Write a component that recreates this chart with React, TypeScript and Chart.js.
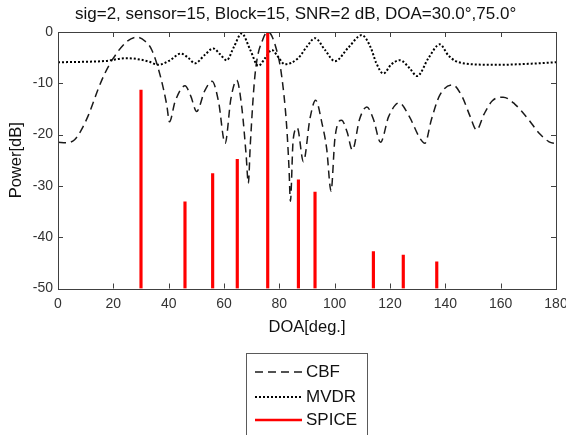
import React, { useEffect, useRef } from "react";
import Chart from "chart.js/auto";

const titleText = "sig=2, sensor=15, Block=15, SNR=2 dB, DOA=30.0°,75.0°";
const xLabel = "DOA[deg.]";
const yLabel = "Power[dB]";
const legendLabels = ["CBF", "MVDR", "SPICE"];

const cbfDoa = [0, 3, 6, 8, 11, 14.6, 17, 20, 24.8, 28.5, 31.5, 33.9, 36.9, 39.3, 40.3, 42.3, 45.9, 48, 50.1, 53, 55.7, 58, 60.4, 62.5, 64.6, 66.5, 68, 68.8, 69.5, 71.2, 74.2, 76, 79, 80.8, 82.6, 83.5, 84, 85, 86.5, 88.7, 91.1, 93.1, 95.5, 97.1, 98.7, 100.1, 102.5, 104.5, 106.4, 109, 111.6, 114, 116.6, 119.5, 123.3, 127, 130.8, 132.6, 135, 138, 142.6, 146, 149, 151.3, 154, 157, 160.9, 165, 170, 174, 177.5, 180];
const cbfPower = [-21.5, -21.6, -21.0, -19.5, -16.2, -11, -8, -5.1, -1.9, -1.0, -1.8, -3.5, -8.4, -14.2, -17.5, -13.6, -10.5, -12.5, -15.5, -11.5, -9.6, -13.5, -21.7, -13, -9.4, -15, -24, -29.5, -22, -8.4, -1.2, 0, -3.5, -8.4, -18, -26.6, -33, -21, -18.7, -25.3, -16.8, -13.3, -18, -22.7, -31, -20.7, -17.2, -19.5, -23, -17, -14.6, -17, -21.5, -16.5, -13.8, -16.5, -20.7, -21.7, -17, -12.3, -10.3, -12.5, -16.5, -19.1, -16, -13.4, -12.7, -14, -17, -19.8, -21.4, -21.8];

const mvdrDoa = [0, 10, 17, 24.8, 30, 33, 36.3, 40.5, 44.4, 47, 49.5, 53, 56.1, 58.5, 61, 63.5, 66.4, 69.5, 72.4, 75, 77.3, 79.5, 82, 86.8, 90, 92.9, 96.5, 100.1, 105, 109.8, 113, 115, 117.6, 120.5, 123.6, 127, 129.8, 134, 138, 141, 143.5, 146.5, 150, 159, 170, 180];
const mvdrPower = [-5.9, -5.8, -5.65, -5.1, -5.4, -5.8, -6.4, -5.5, -4.2, -5, -6.1, -4.5, -3.2, -4.3, -5.5, -3, -0.3, -3.5, -6.6, -5, -3.5, -4.8, -6.3, -5.1, -2.8, -1.2, -3.5, -5.7, -3, -0.6, -3, -6, -8.1, -6.3, -5.5, -7, -8.6, -5, -2.4, -4.5, -5.6, -6.1, -6.3, -6.4, -6.2, -5.9];

const spiceDoa = [30, 45.9, 55.9, 64.8, 75.8, 86.9, 92.9, 114, 124.8, 136.9];
const spicePower = [-11.3, -33.1, -27.6, -24.8, 0, -28.8, -31.2, -42.8, -43.5, -44.8];

const xMin = 0, xMax = 180, xStep = 20;
const yMin = -50, yMax = 0, yStep = 10;

const FONT = "'Liberation Sans', Arial, Helvetica, sans-serif";
const AXIS_COLOR = "#404040";
const TEXT_COLOR = "#333333";

const boxTicksPlugin = {
  id: "boxTicks",
  afterDatasetsDraw(chart: any) {
    const { ctx, chartArea: a, scales } = chart;
    const xs = scales.x, ys = scales.y;
    ctx.save();
    ctx.strokeStyle = AXIS_COLOR;
    ctx.lineWidth = 1;
    ctx.setLineDash([]);
    const L = 5;
    ctx.beginPath();
    xs.ticks.forEach((t: any) => {
      const px = Math.round(xs.getPixelForValue(t.value)) + 0.5;
      ctx.moveTo(px, a.bottom);
      ctx.lineTo(px, a.bottom - L);
      ctx.moveTo(px, a.top);
      ctx.lineTo(px, a.top + L);
    });
    ys.ticks.forEach((t: any) => {
      const py = Math.round(ys.getPixelForValue(t.value)) + 0.5;
      ctx.moveTo(a.left, py);
      ctx.lineTo(a.left + L, py);
      ctx.moveTo(a.right, py);
      ctx.lineTo(a.right - L, py);
    });
    ctx.stroke();
    ctx.strokeRect(Math.round(a.left) + 0.5, Math.round(a.top) + 0.5, Math.round(a.right - a.left), Math.round(a.bottom - a.top));
    ctx.fillStyle = "#111111";
    ctx.font = `17px ${FONT}`;
    ctx.textAlign = "left";
    ctx.textBaseline = "middle";
    ctx.fillText(titleText, 75, 14);
    ctx.restore();
  },
};

const legendPlugin = {
  id: "boxLegend",
  afterDraw(chart: any) {
    const { ctx } = chart;
    const ds = chart.data.datasets;
    ctx.save();
    ctx.fillStyle = "#ffffff";
    ctx.fillRect(247, 354, 120, 90);
    ctx.strokeStyle = "#5a5a5a";
    ctx.lineWidth = 1;
    ctx.setLineDash([]);
    ctx.strokeRect(246.5, 353.5, 121, 100);
    const rows = [372, 397, 420];
    ds.forEach((d: any, i: number) => {
      const y = rows[i];
      ctx.beginPath();
      ctx.strokeStyle = d.borderColor || d.backgroundColor;
      ctx.lineWidth = d.type === "bar" ? 2.5 : d.borderWidth;
      ctx.setLineDash(d.borderDash || []);
      ctx.moveTo(255, y);
      ctx.lineTo(302, y);
      ctx.stroke();
      ctx.setLineDash([]);
      ctx.fillStyle = "#111111";
      ctx.font = `17px ${FONT}`;
      ctx.textBaseline = "middle";
      ctx.textAlign = "left";
      ctx.fillText(d.label, 306, y + 0.5);
    });
    ctx.restore();
  },
};

export default function App() {
  const ref = useRef<HTMLCanvasElement>(null);
  useEffect(() => {
    if (!ref.current) return;
    const chart = new Chart(ref.current, {
      type: "line",
      data: {
        datasets: [
          {
            type: "line",
            label: legendLabels[0],
            data: cbfDoa.map((d, i) => ({ x: d, y: cbfPower[i] })),
            borderColor: "#1a1a1a",
            borderWidth: 1.5,
            borderDash: [8, 5],
            pointRadius: 0,
            cubicInterpolationMode: "monotone",
            fill: false,
            order: 2,
          },
          {
            type: "line",
            label: legendLabels[1],
            data: mvdrDoa.map((d, i) => ({ x: d, y: mvdrPower[i] })),
            borderColor: "#000000",
            borderWidth: 2,
            borderDash: [2, 2],
            pointRadius: 0,
            cubicInterpolationMode: "monotone",
            fill: false,
            order: 1,
          },
          {
            type: "bar",
            label: legendLabels[2],
            data: spiceDoa.map((d, i) => ({ x: d, y: [yMin, spicePower[i]] })) as any,
            backgroundColor: "#ff0000",
            borderColor: "#ff0000",
            borderWidth: 0,
            barThickness: 2.5,
            order: 0,
          } as any,
        ],
      },
      options: {
        responsive: false,
        animation: false,
        layout: { padding: { left: 0, right: 0, top: 32, bottom: 96.5 } },
        plugins: {
          legend: { display: false },
          tooltip: { enabled: false },
          title: { display: false },
        },
        scales: {
          x: {
            type: "linear",
            min: xMin,
            max: xMax,
            offset: false,
            grid: { display: false, drawTicks: false },
            border: { display: false },
            ticks: { stepSize: xStep, color: TEXT_COLOR, font: { family: FONT, size: 14 }, padding: 7, maxRotation: 0 },
            title: { display: true, text: xLabel, color: "#111111", font: { family: FONT, size: 16.5 }, padding: { top: 0, bottom: 1.6 } },
            afterFit: (s: any) => { s.height = 50; s.paddingRight = 10; s.paddingLeft = 0; },
          },
          y: {
            type: "linear",
            min: yMin,
            max: yMax,
            grid: { display: false, drawTicks: false },
            border: { display: false },
            ticks: { stepSize: yStep, color: TEXT_COLOR, font: { family: FONT, size: 14 }, padding: 5 },
            title: { display: true, text: yLabel, color: "#111111", font: { family: FONT, size: 16.5 }, padding: { top: 7, bottom: 0 } },
            afterFit: (s: any) => { s.width = 58; },
          },
        },
      },
      plugins: [boxTicksPlugin, legendPlugin],
    } as any);
    return () => chart.destroy();
  }, []);
  return (
    <div style={{ position: "fixed", left: 0, top: 0, width: 566, height: 435, background: "#fff" }}>
      <canvas ref={ref} width={566} height={435} style={{ width: 566, height: 435 }} />
    </div>
  );
}
